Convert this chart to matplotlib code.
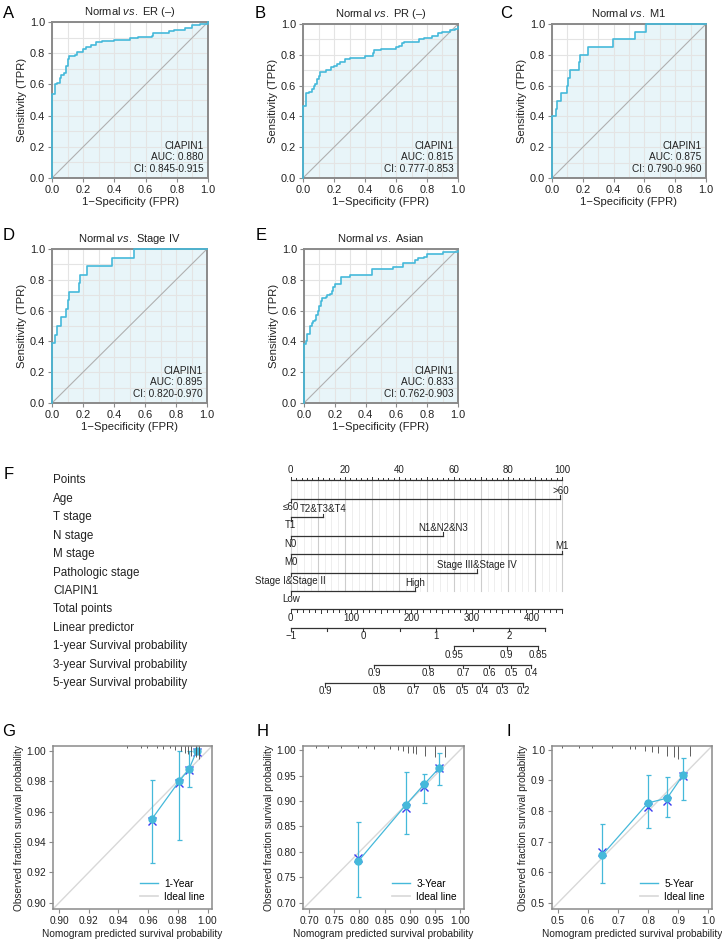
import numpy as np
import matplotlib
matplotlib.use("Agg")
import matplotlib.pyplot as plt
from matplotlib.lines import Line2D
import matplotlib.transforms as mtransforms

plt.rcParams['font.family'] = ['Liberation Sans', 'DejaVu Sans']
plt.rcParams['mathtext.fontset'] = 'custom'
plt.rcParams['mathtext.rm'] = 'Liberation Sans'
plt.rcParams['mathtext.it'] = 'Liberation Sans:italic'

# ---------------- DATA ----------------
roc_titles = ["ER (–)", "PR (–)", "M1", "Stage IV", "Asian"]
roc_letters = ["A", "B", "C", "D", "E"]
roc_auc = ["0.880", "0.815", "0.875", "0.895", "0.833"]
roc_ci = ["0.845-0.915", "0.777-0.853", "0.790-0.960", "0.820-0.970", "0.762-0.903"]

fpr_A = [0, 0, 0.02, 0.03, 0.05, 0.06, 0.08, 0.09, 0.10, 0.11, 0.15, 0.16, 0.20, 0.22, 0.25, 0.28, 0.32, 0.40, 0.50, 0.55, 0.64, 0.65, 0.75, 0.78, 0.85, 0.90, 0.95, 1.0]
tpr_A = [0, 0.54, 0.60, 0.61, 0.64, 0.66, 0.67, 0.72, 0.76, 0.78, 0.79, 0.81, 0.83, 0.84, 0.85, 0.87, 0.875, 0.885, 0.90, 0.905, 0.91, 0.93, 0.94, 0.95, 0.96, 0.98, 0.99, 1.0]

fpr_B = [0, 0, 0.02, 0.04, 0.06, 0.07, 0.08, 0.09, 0.10, 0.11, 0.15, 0.18, 0.20, 0.22, 0.24, 0.27, 0.30, 0.40, 0.45, 0.46, 0.50, 0.60, 0.62, 0.64, 0.65, 0.70, 0.75, 0.78, 0.83, 0.87, 0.90, 0.95, 0.98, 1.0]
tpr_B = [0, 0.47, 0.55, 0.56, 0.58, 0.60, 0.61, 0.64, 0.66, 0.69, 0.70, 0.72, 0.73, 0.74, 0.75, 0.77, 0.78, 0.79, 0.81, 0.83, 0.84, 0.85, 0.86, 0.875, 0.88, 0.885, 0.90, 0.91, 0.92, 0.94, 0.95, 0.96, 0.97, 0.98]

fpr_C = [0, 0, 0.024, 0.032, 0.06, 0.097, 0.104, 0.114, 0.177, 0.184, 0.231, 0.395, 0.536, 0.609, 1.0]
tpr_C = [0, 0.40, 0.45, 0.50, 0.55, 0.60, 0.65, 0.70, 0.75, 0.80, 0.85, 0.90, 0.95, 1.0, 1.0]

fpr_D = [0, 0, 0.02, 0.03, 0.06, 0.09, 0.10, 0.11, 0.175, 0.18, 0.225, 0.39, 0.53, 1.0]
tpr_D = [0, 0.389, 0.444, 0.50, 0.556, 0.611, 0.667, 0.722, 0.778, 0.833, 0.889, 0.944, 1.0, 1.0]

fpr_E = [0, 0, 0.01, 0.02, 0.04, 0.05, 0.06, 0.07, 0.08, 0.09, 0.10, 0.11, 0.12, 0.14, 0.15, 0.17, 0.18, 0.19, 0.20, 0.24, 0.30, 0.44, 0.58, 0.64, 0.72, 0.74, 0.78, 0.80, 0.90, 1.0]
tpr_E = [0, 0.38, 0.40, 0.45, 0.50, 0.52, 0.53, 0.54, 0.57, 0.60, 0.63, 0.66, 0.68, 0.69, 0.70, 0.71, 0.73, 0.75, 0.77, 0.82, 0.83, 0.87, 0.88, 0.91, 0.93, 0.94, 0.95, 0.965, 0.98, 0.985]

roc_fpr = [fpr_A, fpr_B, fpr_C, fpr_D, fpr_E]
roc_tpr = [tpr_A, tpr_B, tpr_C, tpr_D, tpr_E]

# Nomogram
nomo_vars = ["Age", "T stage", "N stage", "M stage", "Pathologic stage", "CIAPIN1"]
nomo_low = ["≤60", "T1", "N0", "M0", "Stage I&Stage II", "Low"]
nomo_high = [">60", "T2&T3&T4", "N1&N2&N3", "M1", "Stage III&Stage IV", "High"]
nomo_pts = [99.3, 12.0, 56.2, 100.0, 68.5, 45.8]
total_ticks = [0, 100, 200, 300, 400]
total_max = 450
lp_ticks = [-1, 0, 1, 2]
lp_max = 2.5
lp_pts_per_unit = 26.8
surv_labels = ["1-year Survival probability", "3-year Survival probability", "5-year Survival probability"]
surv_ticks = [[0.95, 0.9, 0.85],
              [0.9, 0.8, 0.7, 0.6, 0.5, 0.4],
              [0.9, 0.8, 0.7, 0.6, 0.5, 0.4, 0.3, 0.2]]
surv_offset = [139.8, 91.0, 72.9]   # points at which log(-log S) = 0

# Calibration
cal_names = ["1-Year", "3-Year", "5-Year"]
cal_letters = ["G", "H", "I"]
cal_pred = [[0.9625, 0.981, 0.9876, 0.9928],
            [0.798, 0.893, 0.929, 0.958],
            [0.646, 0.799, 0.863, 0.915]]
cal_obs = [[0.955, 0.980, 0.988, 1.000],
           [0.782, 0.893, 0.933, 0.964],
           [0.655, 0.826, 0.842, 0.916]]
cal_bc = [[0.954, 0.979, 0.987, 0.999],
          [0.789, 0.886, 0.927, 0.964],
          [0.666, 0.813, 0.832, 0.914]]
cal_lo = [[0.926, 0.941, 0.976, 1.000],
          [0.712, 0.836, 0.896, 0.932],
          [0.565, 0.745, 0.780, 0.835]]
cal_hi = [[0.981, 1.000, 1.000, 1.000],
          [0.858, 0.956, 0.953, 0.995],
          [0.759, 0.916, 0.911, 0.973]]
cal_ticks = [[0.90, 0.92, 0.94, 0.96, 0.98, 1.00],
             [0.70, 0.75, 0.80, 0.85, 0.90, 0.95, 1.00],
             [0.5, 0.6, 0.7, 0.8, 0.9, 1.0]]
cal_fmt = ["{:.2f}", "{:.2f}", "{:.1f}"]
cal_lim = [(0.896, 1.003), (0.688, 1.008), (0.48, 1.012)]
rug_x = [[0.946, 0.955, 0.959, 0.966, 0.970, 0.975, 0.978, 0.982, 0.985, 0.987, 0.989, 0.992, 0.994],
         [0.713, 0.737, 0.763, 0.797, 0.813, 0.830, 0.860, 0.877, 0.887, 0.897, 0.907, 0.913, 0.930, 0.950, 0.970],
         [0.513, 0.569, 0.613, 0.679, 0.740, 0.757, 0.790, 0.812, 0.834, 0.862, 0.884, 0.900, 0.939]]
rug_h = [[0.01, 0.01, 0.015, 0.01, 0.02, 0.015, 0.025, 0.03, 0.04, 0.05, 0.06, 0.07, 0.08],
         [0.01, 0.01, 0.01, 0.015, 0.015, 0.02, 0.02, 0.025, 0.03, 0.04, 0.045, 0.05, 0.06, 0.07, 0.07],
         [0.01, 0.01, 0.01, 0.015, 0.02, 0.02, 0.03, 0.035, 0.045, 0.06, 0.07, 0.08, 0.06]]

# ---------------- STYLE ----------------
W, H = 722, 946
CYAN = "#45b9da"
FILL = "#e8f5f9"
BLUE = "#3c3cf0"
SPINE = "#8a8a8a"
TXT = "#222222"

fig = plt.figure(figsize=(W / 100, H / 100), dpi=100)


def rect(l, t, r, b):
    return [l / W, 1 - b / H, (r - l) / W, (b - t) / H]


def letter(x, y, s):
    fig.text(x / W, 1 - y / H, s, fontsize=12, ha='left', va='center', color='black')


# ---------------- ROC PANELS ----------------
roc_rects = [(52, 22, 208, 178), (303, 24, 458, 178), (552, 24, 706, 178),
             (52, 249, 207, 403), (304, 249, 458, 403)]
letter_pos = [(3, 14), (255, 14), (500, 13), (3, 235), (256, 235)]

for i in range(5):
    ax = fig.add_axes(rect(*roc_rects[i]))
    ax.set_xlim(0, 1)
    ax.set_ylim(0, 1)
    ax.set_xticks(np.arange(0, 1.01, 0.2))
    ax.set_yticks(np.arange(0, 1.01, 0.2))
    ax.set_xticks(np.arange(0, 1.01, 0.1), minor=True)
    ax.set_yticks(np.arange(0, 1.01, 0.1), minor=True)
    ax.grid(True, which='both', color='#e4e4e4', lw=0.8, zorder=0)
    ax.tick_params(which='minor', length=0)
    ax.tick_params(which='major', length=3, width=0.8, color=SPINE, labelsize=7.9, labelcolor=TXT, pad=2)
    ax.set_xticklabels(["0.0", "0.2", "0.4", "0.6", "0.8", "1.0"])
    ax.set_yticklabels(["0.0", "0.2", "0.4", "0.6", "0.8", "1.0"])
    for s in ax.spines.values():
        s.set_color(SPINE)
        s.set_linewidth(1.4)
    ax.fill_between(roc_fpr[i], roc_tpr[i], 0, step='post', color=FILL, zorder=1, lw=0)
    ax.plot([0, 1], [0, 1], color='#b0b0b0', lw=0.8, zorder=2)
    ax.plot(roc_fpr[i], roc_tpr[i], drawstyle='steps-post', color=CYAN, lw=1.2, zorder=3, clip_on=False)
    ax.set_title("Normal $\\mathit{vs.}$ " + roc_titles[i], fontsize=8.0, pad=5, color=TXT)
    ax.set_xlabel("1−Specificity (FPR)", fontsize=8.1, labelpad=1.5, color=TXT)
    ax.set_ylabel("Sensitivity (TPR)", fontsize=8.1, labelpad=2, color=TXT)
    ax.text(0.97, 0.205, "CIAPIN1", transform=ax.transAxes, ha='right', va='center', fontsize=7.3, color=TXT)
    ax.text(0.97, 0.137, "AUC: " + roc_auc[i], transform=ax.transAxes, ha='right', va='center', fontsize=7.3, color=TXT)
    ax.text(0.97, 0.058, "CI: " + roc_ci[i], transform=ax.transAxes, ha='right', va='center', fontsize=7.3, color=TXT)
    letter(*letter_pos[i], roc_letters[i])

# ---------------- NOMOGRAM ----------------
P0_PX, PPX = 290.7, 2.716  # pixel of 0 points, pixels per point
NT, NB = 455, 700
axn = fig.add_axes(rect(0, NT, W, NB))
axn.set_xlim((0 - P0_PX) / PPX, (W - P0_PX) / PPX)
axn.set_ylim(NB, NT)
axn.axis('off')
label_x = (53 - P0_PX) / PPX
row_y0, row_dy = 480.3, 18.45
rows = [row_y0 + k * row_dy for k in range(12)]
letter(4, 474, "F")

row_names = ["Points"] + nomo_vars + ["Total points", "Linear predictor"] + surv_labels
for k, name in enumerate(row_names):
    axn.text(label_x, rows[k], name, ha='left', va='center', fontsize=8.4, color=TXT)

LC = '#333333'
tfs = 7.0
# grid lines
for p in np.arange(0, 100.1, 2.5):
    major = (p % 10 == 0)
    axn.plot([p, p], [rows[0], rows[6]], color='#cdcdcd' if major else '#ebebeb',
             lw=0.8 if major else 0.6, zorder=0)

# Points axis
axn.plot([0, 100], [rows[0], rows[0]], color=LC, lw=0.9)
for p in np.arange(0, 100.1, 2):
    ln = 3.5 if p % 10 == 0 else 2
    axn.plot([p, p], [rows[0], rows[0] - ln], color=LC, lw=0.7)
for p in range(0, 101, 20):
    axn.text(p, rows[0] - 5, str(p), ha='center', va='bottom', fontsize=tfs, color=TXT)

# variable rows
for k in range(len(nomo_vars)):
    y = rows[k + 1]
    pv = nomo_pts[k]
    axn.plot([0, pv], [y, y], color=LC, lw=0.9)
    axn.plot([0, 0], [y, y + 3.5], color=LC, lw=0.8)
    axn.plot([pv, pv], [y, y - 3.5], color=LC, lw=0.8)
    axn.text(0, y + 3.0, nomo_low[k], ha='center', va='top', fontsize=tfs, color=TXT)
    axn.text(pv, y - 3.0, nomo_high[k], ha='center', va='bottom', fontsize=tfs, color=TXT)

# Total points axis
yt = rows[7]
tp_scale = 100.0 / total_max
axn.plot([0, total_max * tp_scale], [yt, yt], color=LC, lw=0.9)
for t in np.arange(0, total_max + 0.1, 10):
    axn.plot([t * tp_scale] * 2, [yt, yt + (3.5 if t % 50 == 0 else 2.5)], color=LC, lw=0.7)
for t in total_ticks:
    axn.text(t * tp_scale, yt + 3.2, str(t), ha='center', va='top', fontsize=tfs, color=TXT)

# Linear predictor
yl = rows[8]
def lp_to_pts(v):
    return (v + 1) * lp_pts_per_unit
axn.plot([lp_to_pts(-1), lp_to_pts(lp_max)], [yl, yl], color=LC, lw=0.9)
for v in np.arange(-1, lp_max + 0.01, 0.5):
    axn.plot([lp_to_pts(v)] * 2, [yl, yl + 3.5], color=LC, lw=0.8)
for v in lp_ticks:
    axn.text(lp_to_pts(v), yl + 3.2, str(v).replace('-', '−'), ha='center', va='top', fontsize=tfs, color=TXT)

# Survival probabilities
def surv_to_pts(s, off):
    return off + lp_pts_per_unit * np.log(-np.log(s))

for h in range(3):
    ys = rows[9 + h]
    xs = [surv_to_pts(s, surv_offset[h]) for s in surv_ticks[h]]
    axn.plot([min(xs), max(xs)], [ys, ys], color=LC, lw=0.9)
    for s, xp in zip(surv_ticks[h], xs):
        axn.plot([xp, xp], [ys, ys + 3.5], color=LC, lw=0.8)
        axn.text(xp, ys + 3.2, ("%g" % s), ha='center', va='top', fontsize=tfs, color=TXT)

# ---------------- CALIBRATION ----------------
cal_rects = [(53, 746, 212, 909), (303, 746, 464, 909), (552, 746, 712, 909)]
cal_letter_pos = [(2, 731), (257, 731), (506, 731)]
for i in range(3):
    ax = fig.add_axes(rect(*cal_rects[i]))
    lo, hi = cal_lim[i]
    ax.set_xlim(lo, hi)
    ax.set_ylim(lo, hi)
    ax.plot([lo, hi], [lo, hi], color='#d8d8d8', lw=1.0, zorder=1)
    x = np.array(cal_pred[i]); y = np.array(cal_obs[i])
    yerr = [y - np.array(cal_lo[i]), np.array(cal_hi[i]) - y]
    ax.errorbar(x, y, yerr=yerr, fmt='none', ecolor=CYAN, elinewidth=0.9, capsize=1.8, capthick=0.9, zorder=2)
    ax.plot(x, cal_bc[i], 'x', color=BLUE, ms=6, mew=1.0, zorder=3)
    ax.plot(x, y, '-', color=CYAN, lw=0.9, zorder=4)
    ax.plot(x, y, 'o', color=CYAN, ms=5, zorder=5, clip_on=False)
    trans = mtransforms.blended_transform_factory(ax.transData, ax.transAxes)
    ax.vlines(rug_x[i], [1 - hh for hh in rug_h[i]], 1.0, transform=trans, color='#444444', lw=0.6, zorder=6)
    ax.set_xticks(cal_ticks[i])
    ax.set_yticks(cal_ticks[i])
    ax.set_xticklabels([cal_fmt[i].format(t) for t in cal_ticks[i]])
    ax.set_yticklabels([cal_fmt[i].format(t) for t in cal_ticks[i]])
    ax.tick_params(length=3, width=0.8, color=SPINE, labelsize=7.3, labelcolor=TXT, pad=2)
    for s in ax.spines.values():
        s.set_color(SPINE)
        s.set_linewidth(1.1)
    ax.set_xlabel("Nomogram predicted survival probability", fontsize=7.3, labelpad=2, color=TXT)
    ax.set_ylabel("Observed fraction survival probability", fontsize=7.3, labelpad=2, color=TXT)
    handles = [Line2D([0], [0], color=CYAN, lw=1.0), Line2D([0], [0], color='#d8d8d8', lw=1.2)]
    ax.legend(handles, [cal_names[i], "Ideal line"], loc='lower right', frameon=False, fontsize=7.3,
              handlelength=1.8, handletextpad=0.6, borderaxespad=0.3, labelspacing=0.3)
    letter(*cal_letter_pos[i], cal_letters[i])

fig.savefig("out.png", dpi=100)
